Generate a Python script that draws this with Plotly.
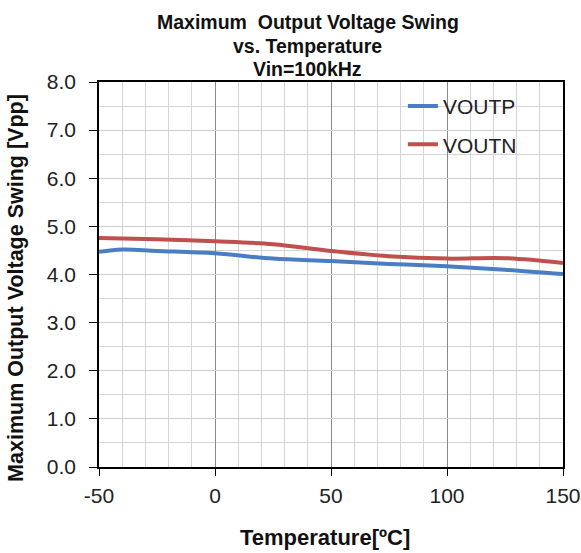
import plotly.graph_objects as go

temps = [-50, -40, -25, 0, 25, 50, 75, 100, 125, 150]
voutp = [4.47, 4.52, 4.49, 4.44, 4.33, 4.28, 4.22, 4.17, 4.10, 4.01]
voutn = [4.76, 4.75, 4.73, 4.69, 4.63, 4.49, 4.38, 4.33, 4.34, 4.24]

x_ticks = [-50, 0, 50, 100, 150]
x_labels = ["-50", "0", "50", "100", "150"]
y_ticks = [0, 1, 2, 3, 4, 5, 6, 7, 8]
y_labels = ["0.0", "1.0", "2.0", "3.0", "4.0", "5.0", "6.0", "7.0", "8.0"]
title_lines = ["Maximum  Output Voltage Swing", "vs. Temperature", "Vin=100kHz"]

FONT = "Arial, Liberation Sans, sans-serif"

fig = go.Figure()
fig.add_trace(go.Scatter(x=temps, y=voutp, name="VOUTP", mode="lines",
                         line=dict(color="#4A7EC4", width=4, shape="spline"),
                         legendgroup="p"))
fig.add_trace(go.Scatter(x=temps, y=voutn, name="VOUTN", mode="lines",
                         line=dict(color="#C0504D", width=4, shape="spline"),
                         legendgroup="n"))

# chart title lines
for txt, yp in zip(title_lines, [1.156, 1.0935, 1.035]):
    fig.add_annotation(text=f"<b>{txt}</b>", x=0.4504, y=yp, xref="paper", yref="paper",
                       xanchor="center", yanchor="middle", showarrow=False,
                       font=dict(family=FONT, size=19.5, color="#111"))

# axis titles
fig.add_annotation(text="<b>Temperature[ºC]</b>", x=0.487, y=-0.184, xref="paper", yref="paper",
                   xanchor="center", yanchor="middle", showarrow=False,
                   font=dict(family=FONT, size=22, color="#111"))
fig.add_annotation(text="<b>Maximum Output Voltage Swing [Vpp]</b>", x=-0.179, y=0.465,
                   xref="paper", yref="paper", textangle=-90,
                   xanchor="center", yanchor="middle", showarrow=False,
                   font=dict(family=FONT, size=21.5, color="#111"))

fig.update_layout(
    width=581, height=553,
    margin=dict(l=99, r=18, t=82, b=86),
    paper_bgcolor="white", plot_bgcolor="white",
    font=dict(family=FONT, size=21, color="#222"),
    showlegend=True,
    legend=dict(x=0.655, y=0.99, xanchor="left", yanchor="top",
                bgcolor="rgba(0,0,0,0)", font=dict(size=21, color="#222"),
                tracegroupgap=8),
)

fig.update_xaxes(
    range=[-50, 150], tickvals=x_ticks, ticktext=x_labels,
    showgrid=True, gridcolor="#8a8a8a", gridwidth=1,
    minor=dict(dtick=10, tick0=-50, showgrid=True, gridcolor="#d4d4d4", gridwidth=1),
    showline=True, linecolor="black", linewidth=1.5, mirror=True,
    ticks="outside", ticklen=7, tickcolor="black",
    zeroline=False, automargin=False, ticklabelstandoff=2,
    tickfont=dict(size=21, color="#222"),
)
fig.update_yaxes(
    range=[0, 8], tickvals=y_ticks, ticktext=y_labels,
    showgrid=True, gridcolor="#cfcfcf", gridwidth=1,
    minor=dict(dtick=0.5, showgrid=True, gridcolor="#d4d4d4", gridwidth=1),
    showline=True, linecolor="black", linewidth=1.5, mirror=True,
    ticks="outside", ticklen=8, tickcolor="black",
    zeroline=False, automargin=False, ticklabelstandoff=9,
    tickfont=dict(size=21, color="#222"),
)

fig.write_html("out.html", config={"displayModeBar": False},
               post_script="document.body.style.margin='0';")
